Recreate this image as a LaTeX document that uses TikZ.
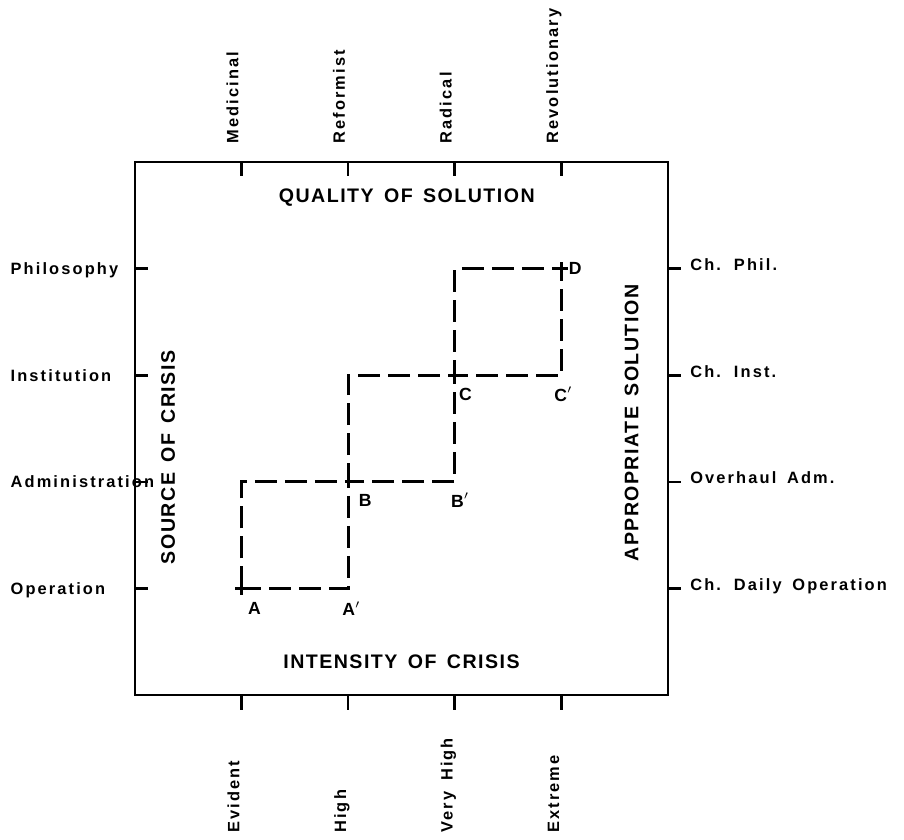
\documentclass[tikz,border=0pt]{standalone}
\usepackage{fontspec}
\newfontfamily\lblfont[LetterSpace=13,WordSpace=1.6]{Liberation Sans Bold}
\newfontfamily\titlefont[LetterSpace=7.5,WordSpace=1.5]{Liberation Sans Bold}
\usetikzlibrary{positioning}

\begin{document}
\begin{tikzpicture}[
    x=53.3pt, y=53.3pt,
    frame/.style={line width=1.3pt},
    tick/.style={line width=1.3pt},
    stairs/.style={line width=1.5pt, dash pattern=on 11pt off 4pt},
    lbl/.style={font=\lblfont\fontsize{8.2}{9}\selectfont, inner sep=0pt},
    title/.style={font=\titlefont\fontsize{9.8}{11}\selectfont, inner sep=0pt},
    pt/.style={font=\titlefont\fontsize{8.8}{10}\selectfont, inner sep=0pt}
  ]
    \useasboundingbox (-1.266,-1.351) rectangle (7.214,6.52);
    \draw[frame] (0,0) rectangle (5,5);
    \foreach \i in {1,...,4} {
      \draw[tick] (\i,5) -- (\i,4.87);
      \draw[tick] (\i,0) -- (\i,-0.14);
      \draw[tick] (0,\i) -- (0.12,\i);
      \draw[tick] (5,\i) -- (5.12,\i);
    }
    % axis values
    \foreach \i/\t in {1/Medicinal,2/Reformist,3/Radical,4/Revolutionary}
      \node[lbl, rotate=90, anchor=base west] (top\i) at (\i-0.03,5.17) {\t};
    \foreach \i/\t in {1/Evident,2/High,3/Very High,4/Extreme}
      \node[lbl, rotate=90, anchor=base west] (bot\i) at (\i-0.02,-1.295) {\t};
    \foreach \i/\t in {1/Operation,2/Administration,3/Institution,4/Philosophy}
      \node[lbl, anchor=base west] (left\i) at (-1.17,\i-0.055) {\t};
    \foreach \i/\t in {1/Ch. Daily Operation,2/Overhaul Adm.,3/Ch. Inst.,4/Ch. Phil.}
      \node[lbl, anchor=base west] (right\i) at (5.206,\i-0.02) {\t};
    % axis titles
    \node[title] (quality) at (2.55,4.67) {QUALITY OF SOLUTION};
    \node[title] (intensity) at (2.50,0.31) {INTENSITY OF CRISIS};
    \node[title, rotate=90] (source) at (0.31,2.23) {SOURCE OF CRISIS};
    \node[title, rotate=90] (approp) at (4.66,2.55) {APPROPRIATE SOLUTION};
    % stairs
    \coordinate (A) at (1,1);
    \coordinate (Ap) at (2,1);
    \coordinate (B) at (2,2);
    \coordinate (Bp) at (3,2);
    \coordinate (C) at (3,3);
    \coordinate (Cp) at (4,3);
    \coordinate (D) at (4,4);
    \draw[stairs] (A) |- (B) |- (C) |- (D) |- (C) |- (B) |- (A);
    \draw[tick] (A) ++(-0.06,0) -- ++(0.12,0) (A) ++(0,-0.06) -- ++(0,0.12);
    \draw[tick] (D) ++(-0.06,0) -- ++(0.12,0) (D) ++(0,-0.06) -- ++(0,0.12);
    \node[pt] (lA) at ([shift={(0.12,-0.19)}]A) {A};
    \node[pt] (lAp) at ([shift={(0.03,-0.19)}]Ap) {A$'$};
    \node[pt] (lB) at ([shift={(0.16,-0.17)}]B) {B};
    \node[pt] (lBp) at ([shift={(0.05,-0.17)}]Bp) {B$'$};
    \node[pt] (lC) at ([shift={(0.10,-0.18)}]C) {C};
    \node[pt] (lCp) at ([shift={(0.02,-0.18)}]Cp) {C$'$};
    \node[pt] (lD) at ([shift={(0.13,0)}]D) {D};
\end{tikzpicture}
\end{document}
